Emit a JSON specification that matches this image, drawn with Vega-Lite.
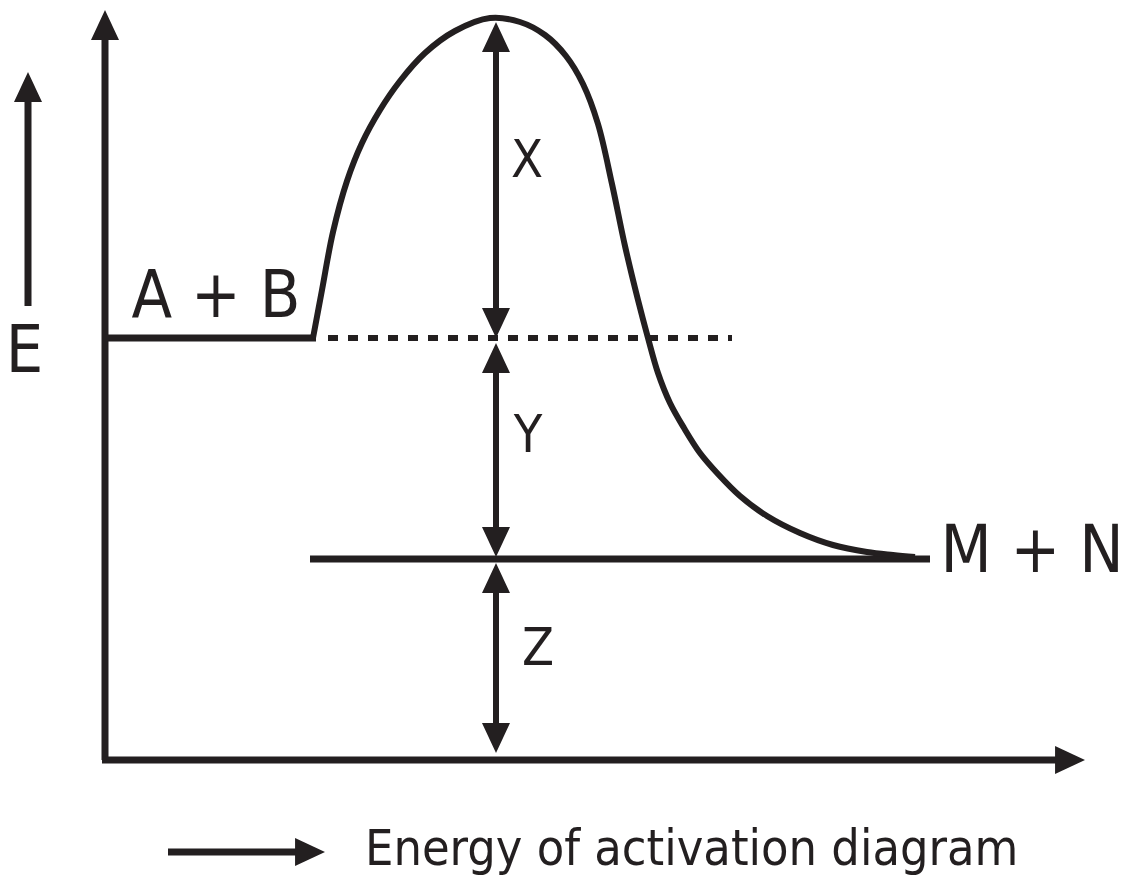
{
  "$schema": "https://vega.github.io/schema/vega-lite/v6.json",
  "autosize": {"type": "fit", "contains": "padding"},
  "width": 1130,
  "height": 884,
  "padding": 0,
  "background": "white",
  "config": {"view": {"stroke": null}},
  "datasets": {
    "segments": [
      {"name": "energy axis", "kind": "solid", "x1": 105, "e1": 124, "x2": 105, "e2": 854},
      {"name": "progress axis", "kind": "solid", "x1": 102, "e1": 124, "x2": 1062, "e2": 124},
      {"name": "E arrow", "kind": "solid", "x1": 28, "e1": 578, "x2": 28, "e2": 792},
      {"name": "reactants", "kind": "solid", "x1": 105, "e1": 546, "x2": 316, "e2": 546},
      {"name": "products", "kind": "solid", "x1": 310, "e1": 325, "x2": 930, "e2": 325},
      {"name": "X span", "kind": "thin", "x1": 496, "e1": 560, "x2": 496, "e2": 850},
      {"name": "Y span", "kind": "thin", "x1": 496, "e1": 335, "x2": 496, "e2": 530},
      {"name": "Z span", "kind": "thin", "x1": 496, "e1": 140, "x2": 496, "e2": 310},
      {"name": "legend arrow", "kind": "solid", "x1": 168, "e1": 32, "x2": 305, "e2": 32},
      {"name": "reactant level", "kind": "dashed", "x1": 318, "e1": 546, "x2": 732, "e2": 546}
    ],
    "heads": [
      {"at": "energy axis", "dir": "up", "x": 105, "e": 874},
      {"at": "E arrow", "dir": "up", "x": 28, "e": 812},
      {"at": "progress axis", "dir": "right", "x": 1085, "e": 124},
      {"at": "X top", "dir": "up", "x": 496, "e": 862},
      {"at": "X bottom", "dir": "down", "x": 496, "e": 546},
      {"at": "Y top", "dir": "up", "x": 496, "e": 541},
      {"at": "Y bottom", "dir": "down", "x": 496, "e": 327},
      {"at": "Z top", "dir": "up", "x": 496, "e": 321},
      {"at": "Z bottom", "dir": "down", "x": 496, "e": 131},
      {"at": "legend arrow", "dir": "right", "x": 325, "e": 32}
    ],
    "curve": [
      {"i": 0, "x": 313, "e": 546},
      {"i": 1, "x": 322, "e": 594},
      {"i": 2, "x": 333, "e": 652},
      {"i": 3, "x": 347, "e": 703},
      {"i": 4, "x": 362, "e": 741},
      {"i": 5, "x": 380, "e": 774},
      {"i": 6, "x": 400, "e": 803},
      {"i": 7, "x": 425, "e": 831},
      {"i": 8, "x": 455, "e": 853},
      {"i": 9, "x": 490, "e": 866},
      {"i": 10, "x": 520, "e": 862},
      {"i": 11, "x": 545, "e": 849},
      {"i": 12, "x": 566, "e": 828},
      {"i": 13, "x": 583, "e": 800},
      {"i": 14, "x": 598, "e": 760},
      {"i": 15, "x": 612, "e": 700},
      {"i": 16, "x": 625, "e": 638},
      {"i": 17, "x": 638, "e": 584},
      {"i": 18, "x": 648, "e": 546},
      {"i": 19, "x": 658, "e": 511},
      {"i": 20, "x": 670, "e": 481},
      {"i": 21, "x": 684, "e": 456},
      {"i": 22, "x": 700, "e": 431},
      {"i": 23, "x": 718, "e": 410},
      {"i": 24, "x": 740, "e": 388},
      {"i": 25, "x": 767, "e": 368},
      {"i": 26, "x": 800, "e": 351},
      {"i": 27, "x": 833, "e": 339},
      {"i": 28, "x": 867, "e": 332},
      {"i": 29, "x": 893, "e": 329},
      {"i": 30, "x": 915, "e": 327}
    ],
    "labels": [
      {"role": "big", "text": "E", "x": 24.5, "e": 512},
      {"role": "big", "text": "A + B", "x": 216, "e": 567},
      {"role": "big", "text": "M + N", "x": 1032, "e": 312},
      {"role": "span", "text": "X", "x": 527, "e": 707},
      {"role": "span", "text": "Y", "x": 528, "e": 432},
      {"role": "span", "text": "Z", "x": 538, "e": 219}
    ],
    "caption": [
      {"text": "Energy of activation diagram", "x": 365, "e": 19}
    ]
  },
  "layer": [
    {
      "data": {"name": "segments"},
      "transform": [{"filter": "datum.kind === 'solid'"}],
      "mark": {"type": "rule", "color": "#231f20", "strokeWidth": 7, "strokeCap": "butt"},
      "encoding": {
        "x": {"field": "x1", "type": "quantitative", "scale": {"domain": [0, 1130], "nice": false, "zero": false}, "axis": null},
        "y": {"field": "e1", "type": "quantitative", "scale": {"domain": [0, 884], "nice": false, "zero": false}, "axis": null},
        "x2": {"field": "x2"},
        "y2": {"field": "e2"}
      }
    },
    {
      "data": {"name": "segments"},
      "transform": [{"filter": "datum.kind === 'thin'"}],
      "mark": {"type": "rule", "color": "#231f20", "strokeWidth": 6, "strokeCap": "butt"},
      "encoding": {
        "x": {"field": "x1", "type": "quantitative"},
        "y": {"field": "e1", "type": "quantitative"},
        "x2": {"field": "x2"},
        "y2": {"field": "e2"}
      }
    },
    {
      "data": {"name": "segments"},
      "transform": [{"filter": "datum.kind === 'dashed'"}],
      "mark": {"type": "rule", "color": "#231f20", "strokeWidth": 6, "strokeDash": [10, 10], "strokeDashOffset": 10, "strokeCap": "butt"},
      "encoding": {
        "x": {"field": "x1", "type": "quantitative"},
        "y": {"field": "e1", "type": "quantitative"},
        "x2": {"field": "x2"},
        "y2": {"field": "e2"}
      }
    },
    {
      "data": {"name": "curve"},
      "mark": {"type": "line", "color": "#231f20", "strokeWidth": 6, "interpolate": "catmull-rom", "strokeJoin": "round"},
      "encoding": {
        "x": {"field": "x", "type": "quantitative"},
        "y": {"field": "e", "type": "quantitative"},
        "order": {"field": "i", "type": "quantitative"}
      }
    },
    {
      "data": {"name": "heads"},
      "mark": {"type": "point", "filled": true, "color": "#231f20", "opacity": 1, "size": 784, "strokeWidth": 0},
      "encoding": {
        "x": {"field": "x", "type": "quantitative"},
        "y": {"field": "e", "type": "quantitative"},
        "shape": {
          "field": "dir",
          "type": "nominal",
          "scale": {
            "domain": ["up", "down", "right"],
            "range": ["M0,0L-1,2.14L1,2.14Z", "M0,0L-1,-2.14L1,-2.14Z", "M0,0L-2.14,-1L-2.14,1Z"]
          },
          "legend": null
        }
      }
    },
    {
      "data": {"name": "labels"},
      "transform": [{"filter": "datum.role === 'big'"}],
      "mark": {"type": "text", "font": "DejaVu Sans Condensed, Liberation Sans, sans-serif", "fontSize": 66, "color": "#231f20", "align": "center", "baseline": "alphabetic"},
      "encoding": {
        "x": {"field": "x", "type": "quantitative"},
        "y": {"field": "e", "type": "quantitative"},
        "text": {"field": "text"}
      }
    },
    {
      "data": {"name": "labels"},
      "transform": [{"filter": "datum.role === 'span'"}],
      "mark": {"type": "text", "font": "DejaVu Sans Condensed, Liberation Sans, sans-serif", "fontSize": 52, "color": "#231f20", "align": "center", "baseline": "alphabetic"},
      "encoding": {
        "x": {"field": "x", "type": "quantitative"},
        "y": {"field": "e", "type": "quantitative"},
        "text": {"field": "text"}
      }
    },
    {
      "data": {"name": "caption"},
      "mark": {"type": "text", "font": "DejaVu Sans Condensed, Liberation Sans, sans-serif", "fontSize": 50, "color": "#231f20", "align": "left", "baseline": "alphabetic", "letterSpacing": 2.4},
      "encoding": {
        "x": {"field": "x", "type": "quantitative"},
        "y": {"field": "e", "type": "quantitative"},
        "text": {"field": "text"}
      }
    }
  ]
}
